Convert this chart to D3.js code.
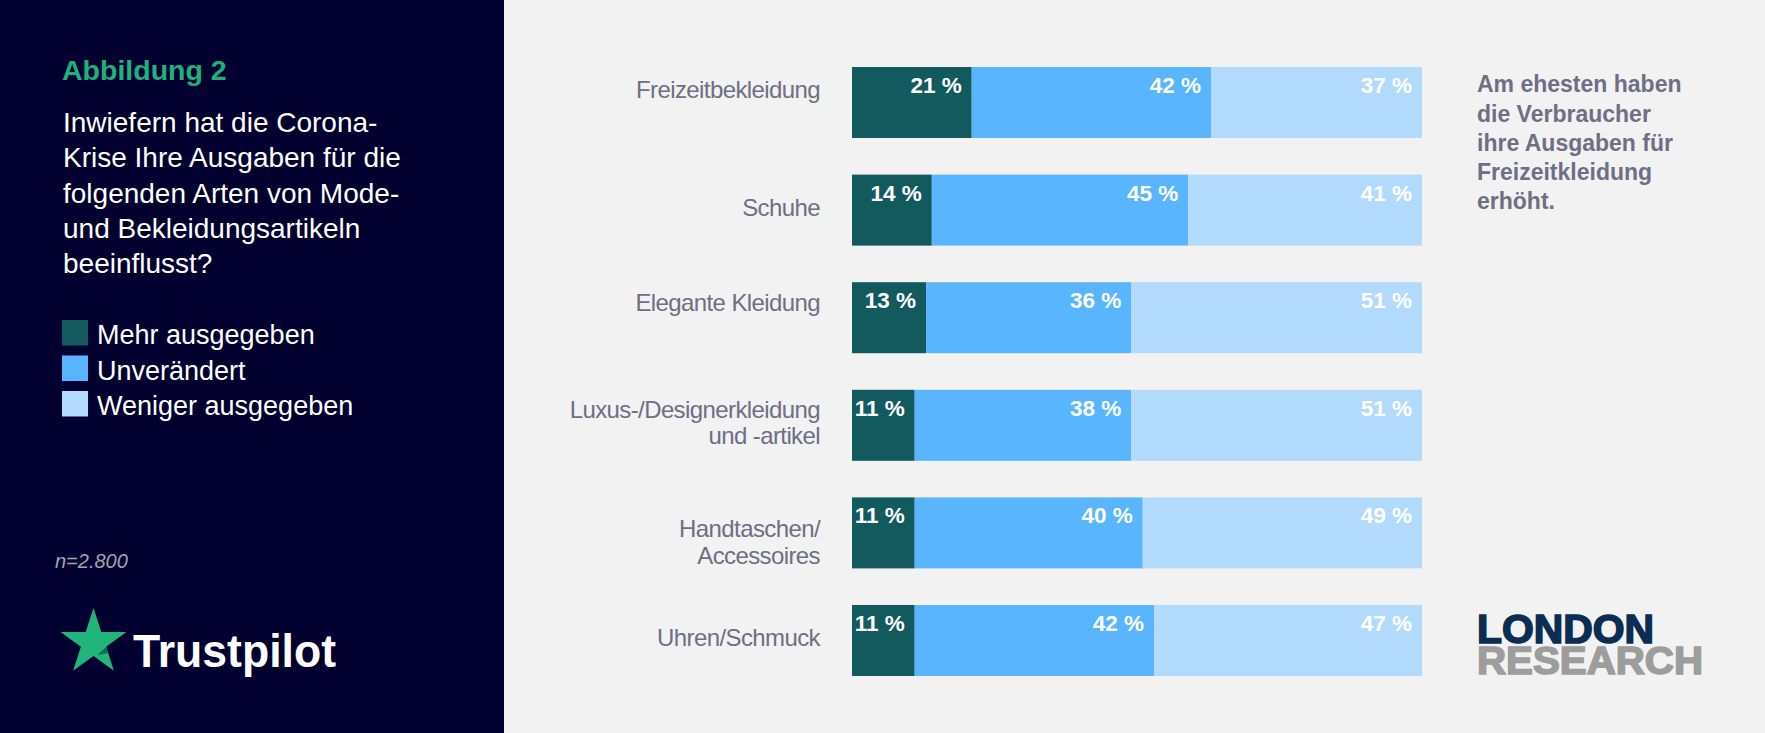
<!DOCTYPE html>
<html>
<head>
<meta charset="utf-8">
<script src="https://cdn.jsdelivr.net/npm/d3@7/dist/d3.min.js"></script>
<style>
  html, body { margin: 0; padding: 0; overflow: hidden; background: #f2f2f2; }
  svg { display: block; font-family: "Liberation Sans", Arial, sans-serif; }
</style>
</head>
<body>
<svg id="chart" width="1765" height="733"></svg>
<script>
// chart data
const categories = ['Freizeitbekleidung', 'Schuhe', 'Elegante Kleidung', 'Luxus', 'Handtaschen', 'Uhren']
const categoryLines = [
  ['Freizeitbekleidung'],
  ['Schuhe'],
  ['Elegante Kleidung'],
  ['Luxus-/Designerkleidung', 'und -artikel'],
  ['Handtaschen/', 'Accessoires'],
  ['Uhren/Schmuck'],
]
const mehr = [21, 14, 13, 11, 11, 11]
const unveraendert = [42, 45, 36, 38, 40, 42]
const weniger = [37, 41, 51, 51, 49, 47]
const seriesKeys = ['mehr', 'unveraendert', 'weniger']
const seriesNames = ['Mehr ausgegeben', 'Unverändert', 'Weniger ausgegeben']
const questionLines = [
  'Inwiefern hat die Corona-',
  'Krise Ihre Ausgaben für die',
  'folgenden Arten von Mode-',
  'und Bekleidungsartikeln',
  'beeinflusst?',
]
const noteLines = ['Am ehesten haben', 'die Verbraucher', 'ihre Ausgaben für', 'Freizeitkleidung', 'erhöht.']

// layout
const colors = ['#135a5f', '#59b5fd', '#b1dafd']
const labelNudge = [-13.3, -2.3, -15.3, -2.7, 9.3, -3.3]
const grey = '#6e6e84'

const svg = d3.select('#chart')

// left dark panel
svg.append('rect').attr('width', 504).attr('height', 733).attr('fill', '#01002f')
svg.append('rect').attr('x', 504).attr('width', 1261).attr('height', 733).attr('fill', '#f2f2f2')

svg.append('text')
  .attr('x', 62).attr('y', 80)
  .attr('fill', '#1db27b').attr('font-size', 28.5).attr('font-weight', 700)
  .text('Abbildung 2')

svg.append('g').selectAll('text')
  .data(questionLines)
  .join('text')
  .attr('x', 63).attr('y', (d, i) => 132 + i * 35.25)
  .attr('fill', '#ffffff').attr('font-size', 28)
  .text(d => d)

const legend = svg.append('g').selectAll('g')
  .data(seriesNames)
  .join('g')
  .attr('transform', (d, i) => `translate(62, ${320 + i * 35.5})`)
legend.append('rect').attr('width', 26).attr('height', 25.5).attr('fill', (d, i) => colors[i])
legend.append('text')
  .attr('x', 35).attr('y', 24)
  .attr('fill', '#ffffff').attr('font-size', 27)
  .text(d => d)

svg.append('text')
  .attr('x', 55).attr('y', 568)
  .attr('fill', '#a3a3ad').attr('font-size', 20).attr('font-style', 'italic')
  .text('n=2.800')

// trustpilot logo
const star = (cx, cy, R, r) => d3.range(10).map(i => {
  const a = -Math.PI / 2 + i * Math.PI / 5
  const rad = i % 2 ? r : R
  return [cx + rad * Math.cos(a), cy + rad * Math.sin(a)]
})
const starPts = star(93.5, 642.7, 34.7, 13.3)
svg.append('polygon').attr('points', starPts.join(' ')).attr('fill', '#1fb57b')
// small darker fold next to the lower right inner corner
const fold = [starPts[3], [97.5, 655], [108.4, 653]]
svg.append('polygon').attr('points', fold.join(' ')).attr('fill', '#0b7046')
svg.append('text')
  .attr('x', 133).attr('y', 667)
  .attr('fill', '#ffffff').attr('font-size', 46).attr('font-weight', 700)
  .attr('textLength', 203).attr('lengthAdjust', 'spacingAndGlyphs')
  .text('Trustpilot')

// bars
const rows = categories.map((c, i) => ({ cat: c, mehr: mehr[i], unveraendert: unveraendert[i], weniger: weniger[i] }))
const stacked = d3.stack().keys(seriesKeys)(rows)

const x = d3.scaleLinear().domain([0, 100]).range([852, 1422])
const y = d3.scaleBand().domain(categories).range([67, 676]).paddingInner(0.34).paddingOuter(0)

const layers = svg.append('g').selectAll('g')
  .data(stacked)
  .join('g')
  .attr('fill', (d, i) => colors[i])

layers.selectAll('rect')
  .data(d => d)
  .join('rect')
  .attr('x', d => x(d[0]))
  .attr('y', d => y(d.data.cat))
  .attr('width', d => x(d[1]) - x(d[0]))
  .attr('height', y.bandwidth())

layers.selectAll('text')
  .data(d => d)
  .join('text')
  .attr('x', d => x(d[1]) - 10)
  .attr('y', d => y(d.data.cat) + 26)
  .attr('text-anchor', 'end')
  .attr('fill', '#ffffff').attr('font-size', 22.5).attr('font-weight', 700)
  .text(d => `${d[1] - d[0]} %`)

// category labels
const catLabels = svg.append('g').selectAll('text')
  .data(categories)
  .join('text')
  .attr('text-anchor', 'end')
  .attr('fill', grey).attr('font-size', 24).attr('letter-spacing', -0.6)
  .attr('y', (d, i) => y(d) + y.bandwidth() / 2 - (categoryLines[i].length - 1) * 13.25 + 8.5 + labelNudge[i])
catLabels.selectAll('tspan')
  .data((d, i) => categoryLines[i])
  .join('tspan')
  .attr('x', 820)
  .attr('dy', (d, j) => j ? 26.5 : 0)
  .text(d => d)

// annotation
svg.append('g').selectAll('text')
  .data(noteLines)
  .join('text')
  .attr('x', 1477).attr('y', (d, i) => 92.3 + i * 29.25)
  .attr('fill', grey).attr('font-size', 23).attr('font-weight', 700)
  .text(d => d)

// london research logo
svg.append('text')
  .attr('x', 1477).attr('y', 643)
  .attr('fill', '#0c2d52').attr('font-size', 40).attr('font-weight', 700)
  .attr('textLength', 177).attr('lengthAdjust', 'spacingAndGlyphs')
  .style('stroke', '#0c2d52').style('stroke-width', 1.6)
  .text('LONDON')
svg.append('text')
  .attr('x', 1477).attr('y', 674)
  .attr('fill', '#9d9d9d').attr('font-size', 38.5).attr('font-weight', 700)
  .attr('textLength', 226).attr('lengthAdjust', 'spacingAndGlyphs')
  .style('stroke', '#9d9d9d').style('stroke-width', 1.6)
  .text('RESEARCH')
</script>
</body>
</html>
